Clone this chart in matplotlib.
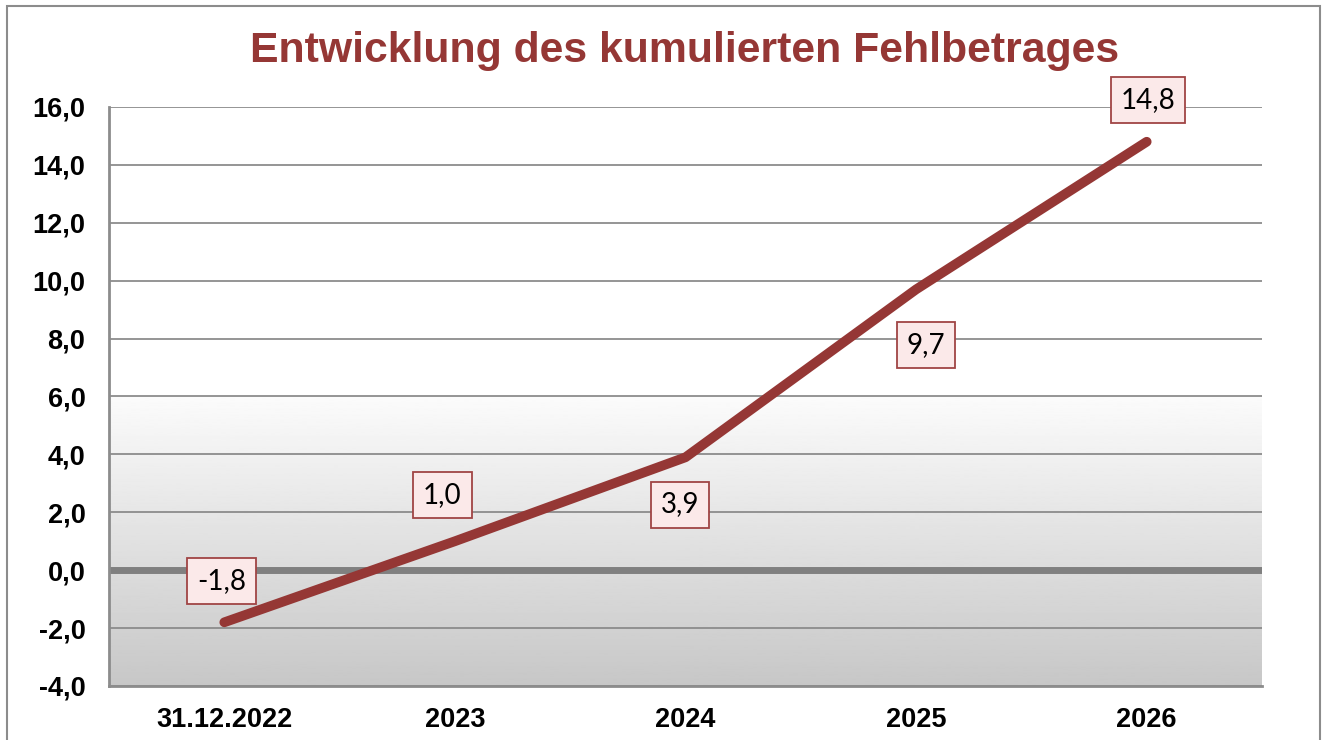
import numpy as np
import matplotlib.pyplot as plt
from matplotlib.patches import Rectangle
from matplotlib.ticker import FuncFormatter

# data
categories = ['31.12.2022', '2023', '2024', '2025', '2026']
values = [-1.8, 1.0, 3.9, 9.7, 14.8]
labels = ['-1,8', '1,0', '3,9', '9,7', '14,8']
# label offsets in points (dx, dy)
label_offsets = [(-2, 30), (-9, 33), (-4, -34), (7, -40), (1, 30)]

RED = '#953735'

fig = plt.figure(figsize=(13.22, 7.4), dpi=100)
ax = fig.add_axes([109 / 1322, 1 - 686 / 740, (1262 - 109) / 1322, (686 - 107) / 740])

# outer chart frame
fig.patches.append(Rectangle((7 / 1322, -0.05), (1320 - 7) / 1322, 1 - 6 / 740 + 0.05,
                             transform=fig.transFigure, fill=False,
                             edgecolor='#8c8c8c', linewidth=1.5))

x = np.arange(len(categories))
ax.set_xlim(-0.5, len(categories) - 0.5)
ax.set_ylim(-4, 16)

# gradient background below 6,0
grad = np.linspace(0.78, 0.985, 256).reshape(-1, 1)
ax.imshow(grad, extent=(-0.5, len(categories) - 0.5, -4, 6), origin='lower',
          cmap='gray', vmin=0, vmax=1, aspect='auto', zorder=0)

ax.set_yticks(np.arange(-4, 17, 2))
ax.yaxis.set_major_formatter(FuncFormatter(lambda v, p: f'{v:.1f}'.replace('.', ',')))
ax.grid(axis='y', color='#8c8c8c', linewidth=1.3, zorder=1)
ax.axhline(0, color='#808080', linewidth=5, zorder=2)

ax.plot(x, values, color=RED, linewidth=7, solid_capstyle='round',
        solid_joinstyle='round', zorder=3)

for xi, v, lab, (dx, dy) in zip(x, values, labels, label_offsets):
    ax.annotate(lab, (xi, v), xytext=(dx, dy), textcoords='offset points',
                ha='center', va='center', fontsize=20, family='Lato', zorder=4,
                bbox=dict(boxstyle='square,pad=0.36', facecolor='#fbe9e9',
                          edgecolor='#a04444', linewidth=1.3))

ax.set_xticks(x)
ax.set_xticklabels(categories)
for lab in ax.get_xticklabels() + ax.get_yticklabels():
    lab.set_fontweight('bold')
    lab.set_fontsize(19.5)
    lab.set_family('Liberation Sans')
ax.tick_params(axis='both', length=0)
ax.tick_params(axis='x', pad=15)
ax.tick_params(axis='y', pad=17)

for s in ['top', 'right']:
    ax.spines[s].set_visible(False)
for s in ['left', 'bottom']:
    ax.spines[s].set_color('#8c8c8c')
    ax.spines[s].set_linewidth(2)

fig.text(685 / 1322, 1 - 51 / 740, 'Entwicklung des kumulierten Fehlbetrages',
         ha='center', va='center', fontsize=30.8, fontweight='bold', color=RED,
         family='Liberation Sans')

plt.savefig('out.png', dpi=100)
plt.close()
